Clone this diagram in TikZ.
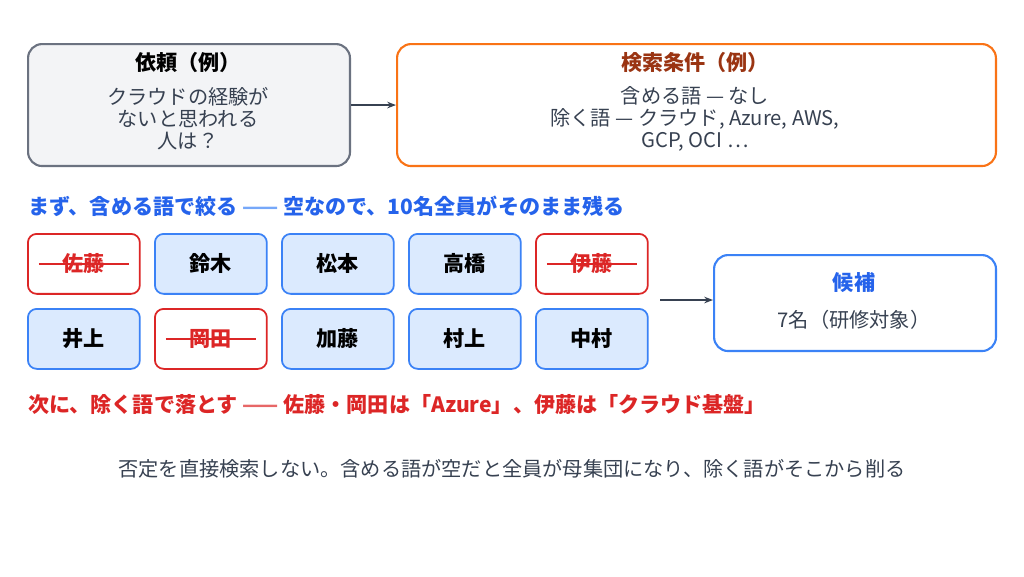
\documentclass[tikz,border=0pt]{standalone}
\usepackage{fontspec}
\setmainfont{Noto Sans CJK JP}
\usepackage{tikz}
\usetikzlibrary{arrows.meta,positioning}
\definecolor{reqgray}{HTML}{6B7280}
\definecolor{reqfill}{HTML}{F3F4F6}
\definecolor{condorange}{HTML}{F97316}
\definecolor{condbrown}{HTML}{9A3412}
\definecolor{candblue}{HTML}{3B82F6}
\definecolor{headblue}{HTML}{2563EB}
\definecolor{cellfill}{HTML}{DBEAFE}
\definecolor{dropred}{HTML}{DC2626}
\definecolor{textgray}{HTML}{374151}
\definecolor{arrowgray}{HTML}{374151}
\newcommand{\bodyfont}{\fontsize{11.5}{12.6}\selectfont}
\newcommand{\headfont}{\fontsize{12}{13}\selectfont\bfseries}
\tikzset{
    % big rounded box
    bigbox/.style={
        rectangle,
        rounded corners=8pt,
        line width=1.2pt,
        anchor=north west
    },
    % person cell (kept)
    keepcell/.style={
        rectangle,
        rounded corners=5pt,
        draw=candblue,
        fill=cellfill,
        line width=1pt,
        minimum width=2.24cm,
        minimum height=1.2cm,
        font=\headfont,
        anchor=north west
    },
    % person cell (dropped)
    dropcell/.style={
        keepcell,
        draw=dropred,
        fill=white,
        text=dropred
    },
    % arrow
    flowarrow/.style={
        -{Stealth[length=5pt]},
        line width=1pt,
        color=arrowgray
    }
}
\begin{document}
\begin{tikzpicture}[x=0.02cm, y=-0.02cm]

    % frame
    \useasboundingbox (0,0) rectangle (1024,576);

    % request box
    \node[bigbox, draw=reqgray, fill=reqfill, minimum width=6.44cm, minimum height=2.44cm] (req) at (27,43) {};
    \node[font=\headfont, text=black] (reqtitle) at (188,62) {依頼（例）};
    \node[font=\bodyfont, text=textgray, align=center, below=0.05cm of reqtitle] (reqtext) {クラウドの経験が\\ないと思われる\\人は？};

    % condition box
    \node[bigbox, draw=condorange, fill=white, minimum width=11.98cm, minimum height=2.44cm] (cond) at (396,43) {};
    \node[font=\headfont, text=condbrown] (condtitle) at (695,62) {検索条件（例）};
    \node[font=\bodyfont, text=textgray, align=center, below=0.03cm of condtitle] (condtext) {含める語 — なし\\除く語 — クラウド, Azure, AWS,\\GCP, OCI …};

    \draw[flowarrow] (req.east) -- (cond.west);

    % include step
    \node[font=\headfont, text=headblue, anchor=west] (inc) at (22,206) {まず、含める語で絞る \textcolor{candblue!70}{——} 空なので、10名全員がそのまま残る};

    % persons
    \node[dropcell] (p1) at (27,233) {佐藤};
    \node[keepcell] (p2) at (154,233) {鈴木};
    \node[keepcell] (p3) at (281,233) {松本};
    \node[keepcell] (p4) at (408,233) {高橋};
    \node[dropcell] (p5) at (535,233) {伊藤};
    \node[keepcell] (p6) at (27,308) {井上};
    \node[dropcell] (p7) at (154,308) {岡田};
    \node[keepcell] (p8) at (281,308) {加藤};
    \node[keepcell] (p9) at (408,308) {村上};
    \node[keepcell] (p10) at (535,308) {中村};

    % strike lines
    \foreach \p in {p1,p5,p7}
        \draw[dropred, line width=1pt] ([xshift=-0.9cm]\p.center) -- ([xshift=0.9cm]\p.center);

    % candidate box
    \node[bigbox, draw=candblue, fill=white, minimum width=5.64cm, minimum height=1.92cm] (cand) at (713,254) {};
    \node[font=\headfont, text=headblue] (candtitle) at (854,283) {候補};
    \node[font=\bodyfont, text=textgray, below=0.1cm of candtitle] (candtext) {7名（研修対象）};

    \coordinate (rowmid) at (660,300);
    \draw[flowarrow] (rowmid) -- (cand.west |- rowmid);

    % exclude step
    \node[font=\headfont, text=dropred, anchor=west] (exc) at (22,405) {次に、除く語で落とす \textcolor{dropred!70}{——} 佐藤・岡田は「Azure」、伊藤は「クラウド基盤」};

    % note
    \node[font=\bodyfont, text=textgray] (note) at (512,469) {否定を直接検索しない。含める語が空だと全員が母集団になり、除く語がそこから削る};

\end{tikzpicture}
\end{document}
